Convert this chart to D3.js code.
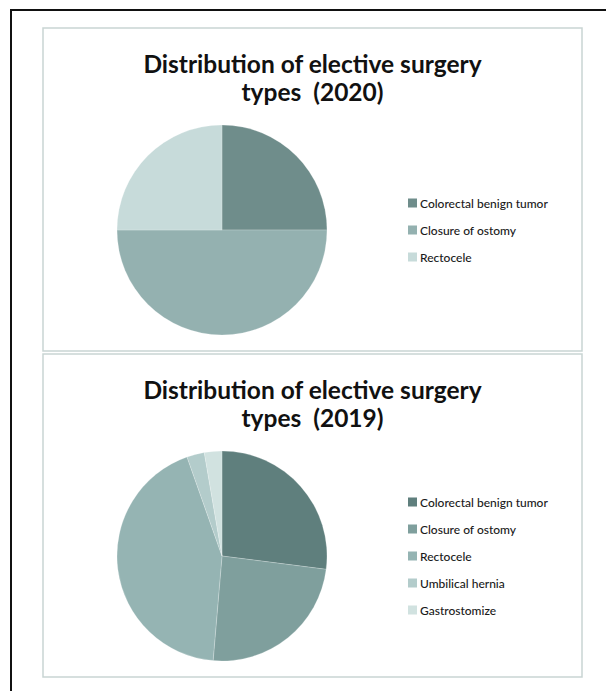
<!DOCTYPE html>
<html>
<head>
<meta charset="utf-8">
<script src="https://cdn.jsdelivr.net/npm/d3@7"></script>
<style>
  html, body { margin: 0; padding: 0; background: #fff; }
  svg { display: block; }
</style>
</head>
<body>
<div id="chart"></div>
<script>
// 2020 data
const categories2020 = ['Colorectal benign tumor', 'Closure of ostomy', 'Rectocele']
const values2020 = [1, 2, 1]
const colors2020 = ['#6f8d8b', '#94b1b0', '#c7dbda']

// 2019 data
const categories2019 = ['Colorectal benign tumor', 'Closure of ostomy', 'Rectocele', 'Umbilical hernia', 'Gastrostomize']
const values2019 = [10, 9, 16, 1, 1]
const colors2019 = ['#5f7f7d', '#7f9f9d', '#95b4b3', '#b3cccb', '#d1e2e0']

const titles = ['Distribution of elective surgery', 'types  (2020)', 'types  (2019)']

const width = 606, height = 691

const svg = d3.select('#chart')
  .append('svg')
  .attr('width', width)
  .attr('height', height)

// outer frame (only top and left edges show in the crop)
svg.append('rect')
  .attr('x', 11)
  .attr('y', 10)
  .attr('width', 700)
  .attr('height', 700)
  .attr('fill', 'none')
  .attr('stroke', '#111')
  .attr('stroke-width', 2)

function drawPanel(cfg) {
  const g = svg.append('g')

  g.append('rect')
    .attr('x', cfg.x)
    .attr('y', cfg.y)
    .attr('width', cfg.w)
    .attr('height', cfg.h)
    .attr('fill', '#fff')
    .attr('stroke', '#c9d5d3')
    .attr('stroke-width', 1.5)

  // title, two lines
  const cx = cfg.x + cfg.w / 2
  ;[titles[0], cfg.subtitle].forEach((t, i) => {
    g.append('text')
      .attr('x', cx)
      .attr('y', cfg.y + 45 + i * 28)
      .attr('text-anchor', 'middle')
      .style('font-family', 'Lato, sans-serif')
      .style('font-weight', 'bold')
      .style('font-size', '24.5px')
      .style('white-space', 'pre')
      .style('fill', '#111')
      .text(t)
  })

  const radius = 105
  const pie = d3.pie().sort(null).value(d => d)
  const arc = d3.arc().innerRadius(0).outerRadius(radius)
  const color = d3.scaleOrdinal().domain(cfg.categories).range(cfg.colors)

  const pg = g.append('g')
    .attr('transform', `translate(${cfg.pieX},${cfg.pieY})`)

  pg.selectAll('path')
    .data(pie(cfg.values))
    .enter()
    .append('path')
    .attr('d', arc)
    .attr('fill', (d, i) => color(cfg.categories[i]))
    .attr('stroke', 'rgba(255,255,255,0.35)')
    .attr('stroke-width', 0.6)

  // legend
  const n = cfg.categories.length
  const legendY = d3.scalePoint()
    .domain(cfg.categories)
    .range([cfg.pieY - 27 * (n - 1) / 2, cfg.pieY + 27 * (n - 1) / 2])

  const lg = g.selectAll('.legend-item')
    .data(cfg.categories)
    .enter()
    .append('g')
    .attr('class', 'legend-item')
    .attr('transform', d => `translate(408,${legendY(d)})`)

  lg.append('rect')
    .attr('x', 0)
    .attr('y', -4.5)
    .attr('width', 9)
    .attr('height', 9)
    .attr('fill', d => color(d))

  lg.append('text')
    .attr('x', 12)
    .attr('y', 4.5)
    .style('font-family', 'Lato, sans-serif')
    .style('font-size', '12px')
    .style('font-weight', 500)
    .style('fill', '#1a1a1a')
    .text(d => d)
}

drawPanel({
  x: 43, y: 28, w: 539, h: 323,
  subtitle: titles[1],
  categories: categories2020, values: values2020, colors: colors2020,
  pieX: 222, pieY: 230
})

drawPanel({
  x: 43, y: 354, w: 539, h: 323,
  subtitle: titles[2],
  categories: categories2019, values: values2019, colors: colors2019,
  pieX: 222, pieY: 556
})
</script>
</body>
</html>
